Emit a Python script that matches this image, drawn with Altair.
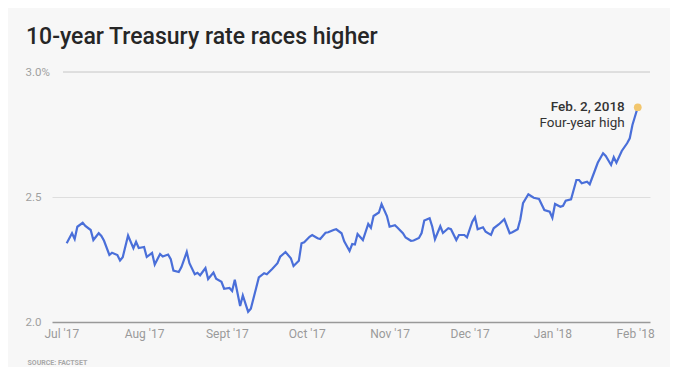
import altair as alt
import pandas as pd

# ---- data ----
start_date = "2017-07-03"
days_after_start = [
    0, 2, 3, 4, 6, 7, 9, 10, 12, 13,
    14, 16, 17, 19, 20, 21, 23, 25, 26, 27,
    29, 30, 32, 33, 35, 36, 38, 39, 40, 42,
    43, 45, 46, 48, 49, 50, 52, 53, 55, 56,
    58, 59, 61, 62, 63, 65, 66, 68, 69, 71,
    72, 74, 75, 77, 79, 80, 82, 84, 85, 87,
    88, 89, 91, 92, 94, 95, 97, 98, 100, 101,
    103, 104, 106, 107, 108, 109, 111, 113, 114, 115,
    117, 118, 120, 121, 123, 124, 126, 127, 129, 130,
    132, 133, 134, 136, 137, 138, 140, 141, 143, 144,
    146, 147, 149, 150, 152, 153, 154, 156, 157, 159,
    160, 162, 164, 166, 167, 169, 170, 171, 173, 175,
    177, 179, 181, 182, 183, 185, 186, 187, 189, 191,
    192, 193, 195, 196, 198, 199, 201, 202, 204, 205,
    206, 208, 210, 211, 212, 214,
]
rate = [
    2.315, 2.355, 2.332, 2.381, 2.397, 2.384, 2.368, 2.328, 2.355, 2.344,
    2.325, 2.268, 2.277, 2.268, 2.246, 2.259, 2.346, 2.295, 2.321, 2.296,
    2.300, 2.260, 2.276, 2.230, 2.272, 2.262, 2.270, 2.251, 2.206, 2.200,
    2.220, 2.280, 2.235, 2.191, 2.197, 2.187, 2.216, 2.172, 2.198, 2.173,
    2.161, 2.133, 2.136, 2.124, 2.169, 2.064, 2.106, 2.041, 2.053, 2.136,
    2.178, 2.195, 2.191, 2.212, 2.235, 2.261, 2.280, 2.255, 2.224, 2.245,
    2.315, 2.319, 2.341, 2.348, 2.335, 2.332, 2.357, 2.359, 2.368, 2.371,
    2.355, 2.323, 2.284, 2.312, 2.310, 2.352, 2.328, 2.392, 2.377, 2.424,
    2.438, 2.472, 2.424, 2.381, 2.387, 2.377, 2.355, 2.338, 2.325, 2.326,
    2.336, 2.356, 2.406, 2.415, 2.381, 2.331, 2.383, 2.356, 2.375, 2.371,
    2.328, 2.348, 2.348, 2.339, 2.401, 2.419, 2.371, 2.379, 2.361, 2.348,
    2.375, 2.391, 2.411, 2.355, 2.359, 2.371, 2.411, 2.475, 2.511, 2.497,
    2.492, 2.448, 2.441, 2.417, 2.472, 2.461, 2.465, 2.485, 2.491, 2.568,
    2.568, 2.555, 2.561, 2.551, 2.608, 2.637, 2.675, 2.664, 2.628, 2.659,
    2.637, 2.684, 2.715, 2.735, 2.788, 2.859,
]
month_names = ["Jan", "Feb", "Mar", "Apr", "May", "Jun",
               "Jul", "Aug", "Sept", "Oct", "Nov", "Dec"]
tick_months = [(2017, 7), (2017, 8), (2017, 9), (2017, 10), (2017, 11),
               (2017, 12), (2018, 1), (2018, 2)]
y_ticks = [2.0, 2.5, 3.0]
title_text = "10-year Treasury rate races higher"
note_date = "Feb. 2, 2018"
note_text = "Four-year high"
source_text = "SOURCE: FACTSET"

# ---- table ----
base_ts = pd.Timestamp(start_date)
df = pd.DataFrame({
    "date": [(base_ts + pd.Timedelta(days=d)).strftime("%Y-%m-%d") for d in days_after_start],
    "rate": rate,
})
last = df.tail(1)

W, H = 598, 250
FONT = "Roboto"
LINE_BLUE = "#4a6fd9"
GRID = "#dedede"

x_domain = [
    alt.DateTime(year=2017, month=6, date=27, hours=12, utc=True),
    alt.DateTime(year=2018, month=2, date=6, hours=14, utc=True),
]
x_ticks = [alt.DateTime(year=y, month=m, date=1, utc=True) for y, m in tick_months]
months_js = "[" + ",".join("'" + m + "'" for m in month_names) + "]"
x_label_expr = months_js + "[utcmonth(datum.value)] + \" '\" + utcFormat(datum.value, '%y')"

x_enc = alt.X(
    "date:T",
    scale=alt.Scale(type="utc", domain=x_domain),
    axis=alt.Axis(
        values=x_ticks,
        labelExpr=x_label_expr,
        ticks=False,
        grid=False,
        domain=True,
        domainColor="#999999",
        domainWidth=1.5,
        labelPadding=6,
        labelBaseline="top",
        labelFont=FONT,
        labelFontSize=12,
        labelColor="#9a9a9a",
        title=source_text,
        titleFont=FONT,
        titleFontSize=7,
        titleFontWeight="bold",
        titleColor="#a8a8a8",
        titleAnchor="start",
        titleAlign="left",
        titleBaseline="middle",
        titleX=-25,
        titleY=40,
    ),
)
y_enc = alt.Y(
    "rate:Q",
    scale=alt.Scale(domain=[2.0, 3.0], nice=False, zero=False),
    axis=alt.Axis(
        values=y_ticks,
        labelExpr="datum.value == 3 ? '3.0%' : format(datum.value, '.1f')",
        ticks=False,
        domain=False,
        grid=True,
        gridColor=GRID,
        gridOpacity={"condition": {"test": "datum.value == 2 || datum.value == 3", "value": 0}, "value": 1},
        labelAlign="left",
        labelBaseline="middle",
        labelPadding=27,
        labelFont=FONT,
        labelFontSize=11.5,
        labelColor="#a0a0a0",
        title=None,
    ),
)

line = alt.Chart(df).mark_line(color=LINE_BLUE, strokeWidth=2.2, interpolate="linear").encode(
    x=x_enc, y=y_enc
)

top_grid = alt.Chart(df).mark_rule(color=GRID, strokeWidth=1).encode(
    y=alt.datum(3.0), x=alt.value(11), x2=alt.value(W)
)

dot = alt.Chart(last).mark_point(filled=True, color="#f2c66d", size=60, opacity=1).encode(
    x="date:T", y="rate:Q"
)

label1 = alt.Chart(last).mark_text(
    align="right", baseline="alphabetic", dx=-13, dy=4, font=FONT,
    fontSize=13.5, fontWeight=500, color="#333333"
).encode(x="date:T", y="rate:Q", text=alt.value(note_date))

label2 = alt.Chart(last).mark_text(
    align="right", baseline="alphabetic", dx=-13, dy=20, font=FONT,
    fontSize=13.5, fontWeight=400, color="#333333"
).encode(x="date:T", y="rate:Q", text=alt.value(note_text))

chart = alt.layer(line, top_grid, dot, label1, label2).properties(
    width=W,
    height=H,
    autosize=alt.AutoSizeParams(type="none"),
    padding={"left": 44, "top": 64, "right": 20, "bottom": 45},
    background="#f7f7f7",
    title=alt.TitleParams(
        title_text,
        anchor="start",
        frame="group",
        dx=-26,
        dy=3,
        offset=2,
        font=FONT,
        fontSize=23,
        fontWeight=500,
        color="#262626",
        baseline="alphabetic",
    ),
).configure_view(stroke=None)

chart.save("out.html", embed_options={"renderer": "svg", "actions": False})
